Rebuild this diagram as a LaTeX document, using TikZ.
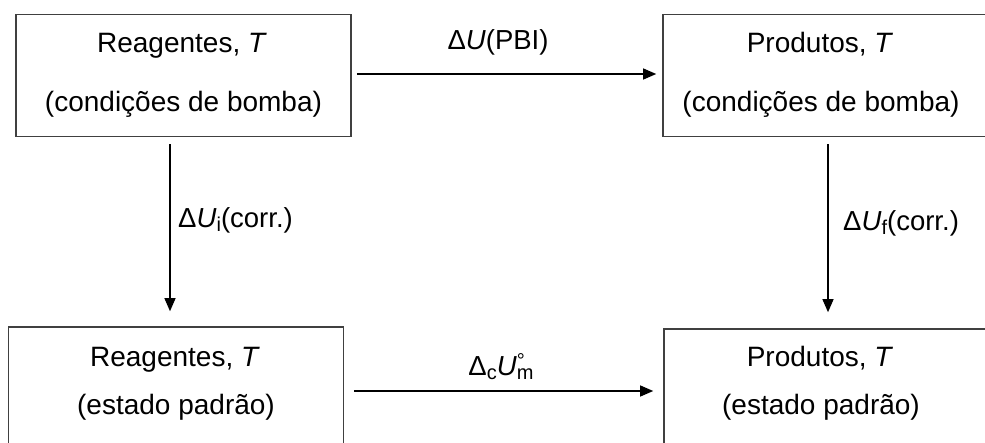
\documentclass[tikz,border=0pt]{standalone}
\usepackage{fontspec}
\setmainfont{Liberation Sans}
\usetikzlibrary{arrows.meta,calc}
\newcommand\lblsub[1]{\raisebox{-0.3ex}{\fontsize{20}{20}\selectfont #1}}
\newcommand\lblsup[1]{\raisebox{0.55ex}{\fontsize{20}{20}\selectfont #1}}
\definecolor{boxgray}{HTML}{404040}
\begin{document}
\begin{tikzpicture}[x=1pt,y=-1pt,
  box/.style={draw=boxgray, line width=1.6pt, minimum width=#1, inner sep=0pt},
  box/.default=335pt,
  boxtxt/.style={font=\fontsize{28}{28}\selectfont, anchor=base, inner sep=0pt},
  lbl/.style={font=\fontsize{27.5}{28}\selectfont, anchor=base, inner sep=0pt},
  arr/.style={line width=1.2pt, -{Triangle[length=13pt,width=11pt]}}]
\useasboundingbox (0,0) rectangle (985,442);
\clip (0,0) rectangle (985,442);
% boxes
\node[box, minimum height=122pt] (tl) at (183.5,75.5) {};
\node[box, minimum height=122pt] (tr) at (830.5,75.5) {};
\node[box, minimum height=130pt] (bl) at (176,392) {};
\node[box, minimum height=130pt] (br) at (831.5,394) {};
% texts
\node[boxtxt] (tl1) at (182,52) {Reagentes, \textit{T}};
\node[boxtxt] (tl2) at (183.5,111) {(condições de bomba)};
\node[boxtxt] (tr1) at (820,52) {Produtos, \textit{T}};
\node[boxtxt] (tr2) at (821,111) {(condições de bomba)};
\node[boxtxt] (bl1) at (175,366) {Reagentes, \textit{T}};
\node[boxtxt] (bl2) at (176,414) {(estado padrão)};
\node[boxtxt] (br1) at (820,366) {Produtos, \textit{T}};
\node[boxtxt] (br2) at (821,414) {(estado padrão)};
% arrows
\draw[arr, shorten <=5pt, shorten >=6pt] (tl.east |- 0,74) -- (tr.west |- 0,74);
\draw[arr, shorten <=10pt, shorten >=10pt] (bl.east |- 0,391) -- (br.west |- 0,391);
\coordinate (la) at ($(tl.south)+(-13.5,0)$);
\coordinate (ra) at ($(tr.south)+(-2.5,0)$);
\draw[arr, shorten <=7pt, shorten >=15pt] (la) -- (la |- bl.north);
\draw[arr, shorten <=7pt, shorten >=16pt] (ra) -- (ra |- br.north);
% labels
\node[lbl] (l1) at (498,49) {Δ\textit{U}(PBI)};
\node[lbl, anchor=base west] (l2) at (178,227) {Δ\textit{U}\lblsub{i}(corr.)};
\node[lbl, anchor=base west] (l3) at (843,230) {Δ\textit{U}\lblsub{f}(corr.)};
\node[lbl] (l4) at (501,375) {Δ\lblsub{c}\textit{U}\rlap{\lblsup{°}}\lblsub{m}};
\end{tikzpicture}
\end{document}
